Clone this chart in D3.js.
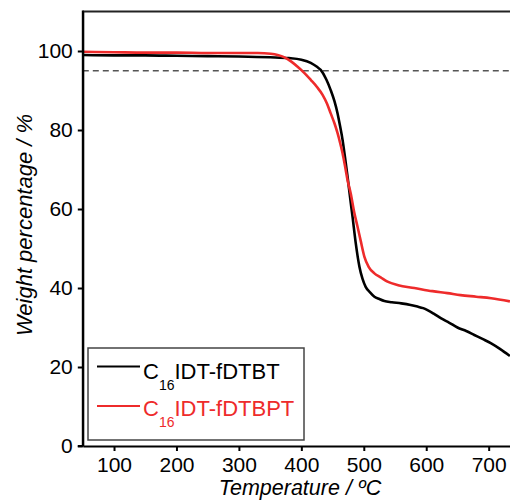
<!DOCTYPE html>
<html><head><meta charset="utf-8">
<script src="https://cdn.jsdelivr.net/npm/d3@7"></script>
<style>body{margin:0;background:#fff;overflow:hidden}svg{display:block}</style>
</head><body>
<script>
const xTicks = [100, 200, 300, 400, 500, 600, 700];
const yTicks = [0, 20, 40, 60, 80, 100];
const seriesNames = ["C16IDT-fDTBT", "C16IDT-fDTBPT"];
const blackT = [50,100,150,200,250,300,350,380,400,415,425,431,440,447,453,458,462,466,470,474,478,482,487,493,498,503,510,517,525,533,545,560,575,586,595,602,612,624,637,650,664,677,690,704,718,734];
const blackV = [99.0,98.9,98.9,98.8,98.7,98.6,98.4,98.2,97.8,97.0,96.0,95.2,92.8,90.1,87.3,84.2,81.0,77.5,73.0,68.2,63.0,58.0,51.5,45.4,42.3,40.3,38.9,37.8,37.2,36.7,36.4,36.1,35.7,35.3,34.9,34.4,33.5,32.3,31.2,30.0,29.1,28.1,27.1,26.0,24.6,22.8];
const redT = [50,100,150,200,250,300,330,351,362,373,384,394,405,415,425,434,441,447,453,458,462,466,470,474,479,485,490,495,501,508,517,527,538,555,581,610,634,655,680,704,734];
const redV = [99.8,99.7,99.6,99.6,99.5,99.5,99.5,99.3,99.0,98.4,97.3,96.0,94.4,92.7,90.9,88.9,86.7,84.2,81.7,79.2,76.8,74.1,70.8,67.3,64.0,58.9,55.5,52.0,47.9,45.3,43.7,42.7,41.6,40.7,40.0,39.2,38.7,38.2,37.8,37.4,36.6];
const refLine = 95;

const W = 510, H = 504;
const RED = "#ee2b2b";
const FONT = "'Liberation Sans', Arial, sans-serif";
const svg = d3.select("body").append("svg").attr("width", W).attr("height", H);

const x = d3.scaleLinear().domain([50, 750]).range([82.8, 519.9]);
const y = d3.scaleLinear().domain([0, 110]).range([446, 11.5]);

svg.append("clipPath").attr("id","clip").append("rect")
  .attr("x", x(50)).attr("y", y(110)).attr("width", x(750)-x(50)).attr("height", y(0)-y(110));

// reference dashed line
svg.append("line").attr("x1", x(50)).attr("x2", x(750)).attr("y1", y(refLine)).attr("y2", y(refLine))
  .attr("stroke", "#555").attr("stroke-width", 1.6).attr("stroke-dasharray", "6,4");

const line = d3.line().x(d => x(d[0])).y(d => y(d[1])).curve(d3.curveMonotoneX);
const g = svg.append("g").attr("clip-path", "url(#clip)");
g.append("path").datum(blackT.map((t,i)=>[t, blackV[i]])).attr("d", line)
  .attr("fill","none").attr("stroke","#000").attr("stroke-width",2.6).attr("stroke-linejoin","round");
g.append("path").datum(redT.map((t,i)=>[t, redV[i]])).attr("d", line)
  .attr("fill","none").attr("stroke",RED).attr("stroke-width",2.6).attr("stroke-linejoin","round");

// top border
svg.append("line").attr("x1", x(50)).attr("x2", x(750)).attr("y1", y(110)).attr("y2", y(110))
  .attr("stroke","#222").attr("stroke-width",2);

// axes
const xAxis = svg.append("g").attr("transform", `translate(0,${y(0)})`)
  .call(d3.axisBottom(x).tickValues(xTicks).tickSize(5).tickPadding(6).tickSizeOuter(0));
const yAxis = svg.append("g").attr("transform", `translate(${x(50)},0)`)
  .call(d3.axisLeft(y).tickValues(yTicks).tickSize(5).tickPadding(5).tickSizeOuter(0));
[xAxis, yAxis].forEach(a => {
  a.select(".domain").attr("stroke","#000").attr("stroke-width",2);
  a.selectAll(".tick line").attr("stroke","#000").attr("stroke-width",2);
  a.selectAll("text").attr("font-family", FONT).attr("font-size", 21).attr("fill","#000");
});
svg.append("line").attr("x1", x(50)-5).attr("x2", x(50)).attr("y1", y(0)).attr("y2", y(0)).attr("stroke","#000").attr("stroke-width",2);
svg.append("line").attr("x1", x(50)).attr("x2", x(50)).attr("y1", y(110)-1).attr("y2", y(0)).attr("stroke","#000").attr("stroke-width",2);

// axis titles
svg.append("text").attr("x", 300).attr("y", 495).attr("text-anchor","middle")
  .attr("font-family", FONT).attr("font-size", 21.5).attr("font-style","italic").text("Temperature / ºC");
svg.append("text").attr("transform", "translate(32,225) rotate(-90)").attr("text-anchor","middle")
  .attr("font-family", FONT).attr("font-size", 22).attr("font-style","italic").text("Weight percentage / %");

// legend
svg.append("rect").attr("x", 88).attr("y", 348).attr("width", 216).attr("height", 92)
  .attr("fill","#fff").attr("stroke","#444").attr("stroke-width",1.5);
const legendItems = [{c:"#000", yl:366.5, yb:379}, {c:RED, yl:406, yb:416}];
legendItems.forEach((it, i) => {
  svg.append("line").attr("x1", 97).attr("x2", 140).attr("y1", it.yl).attr("y2", it.yl)
    .attr("stroke", it.c).attr("stroke-width", 1.8);
  const t = svg.append("text").attr("x", 143).attr("y", it.yb).attr("font-family", FONT)
    .attr("font-size", 22).attr("fill", it.c);
  const name = seriesNames[i];
  t.append("tspan").text(name.slice(0,1));
  t.append("tspan").attr("font-size", 14).attr("dy", 11).text(name.slice(1,3));
  t.append("tspan").attr("dy", -11).text(name.slice(3));
});
</script>
</body></html>
